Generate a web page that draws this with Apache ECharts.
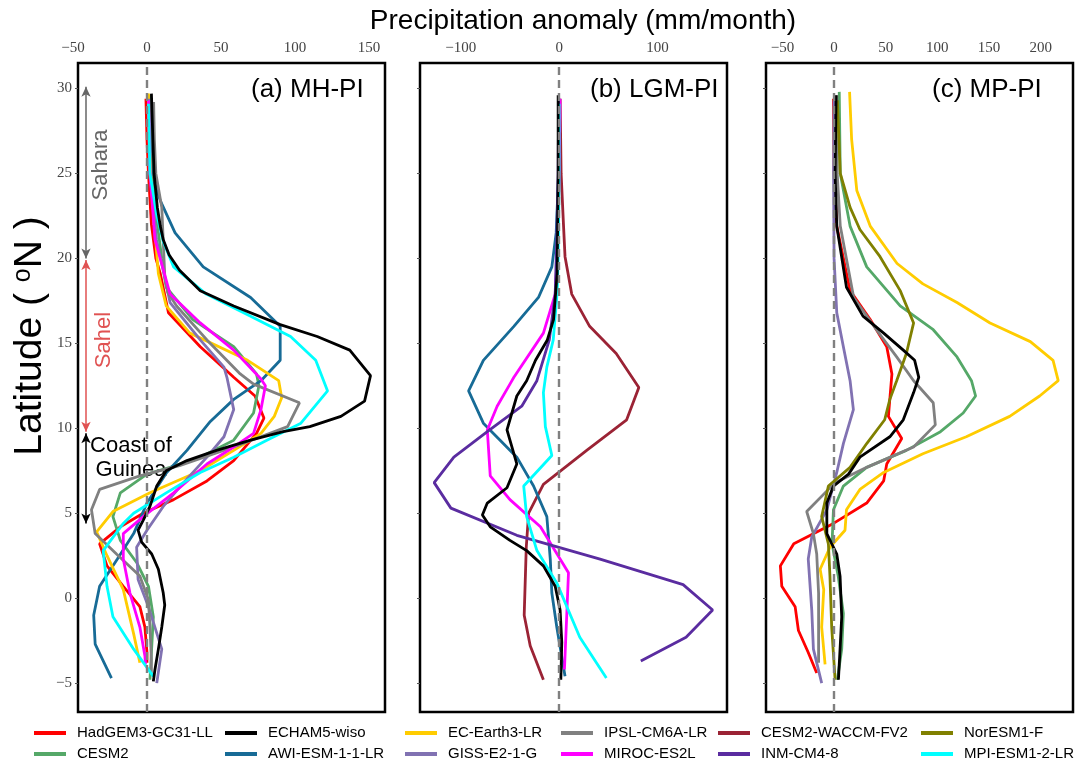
<!DOCTYPE html>
<html>
<head>
<meta charset="utf-8">
<script src="https://cdn.jsdelivr.net/npm/echarts@6/dist/echarts.min.js"></script>
<style>
  html, body { margin: 0; padding: 0; background: #fff; }
  #chart { width: 1088px; height: 762px; }
</style>
</head>
<body>
<div id="chart"></div>
<script>
// Zonal-mean precipitation anomaly profiles over West Africa, [latitude, mm/month]

// ---- (a) MH-PI ----
const mh_HadGEM3 = [[29.4,-0.7],[27,0],[25,1],[22,3],[20,6],[19.1,9],[16.8,14.5],[14.8,36],[13,58.6],[11.9,73],[10.6,79],[9.7,74],[8.1,58.6],[6.9,40.5],[5.8,18],[5,-2.5],[4.2,-18],[3.2,-32],[1.9,-27],[0.7,-16],[-0.5,-4.8],[-1.7,-1.4],[-3.2,0],[-3.8,0]];
const mh_CESM2 = [[29.6,2],[27,3],[25,4],[22,7],[20,10],[18.3,13],[16.4,31],[14.8,58.6],[13.2,74],[12.5,75.6],[10.9,72],[9.3,58.6],[8.3,36],[7.7,15.6],[7.3,0],[6.2,-18],[4.8,-23],[3.4,-18],[2.1,-7],[0.7,1],[-1.1,4.3],[-3.2,3],[-4.8,2]];
const mh_ECHAM5 = [[29.7,3],[27,4],[25,4.8],[23,7],[21.9,9],[21.1,11],[20.2,15],[19.3,22],[18.1,36],[17.2,58.6],[16.1,90],[15.4,115],[14.6,137],[13.1,151],[11.6,147],[10.7,131],[10.1,110],[9.8,92],[9.3,70],[8.7,47],[8.1,27],[7.5,13],[6.6,6.6],[5.4,2],[4.6,-2.5],[4,-6],[3.3,-3.6],[2.6,3.2],[1.7,7.7],[0.3,11],[-0.4,12],[-1.7,10],[-3,7.7],[-4.2,5.4],[-4.9,4.3]];
const mh_AWI = [[29.5,1],[27,2],[25,3],[23.4,9],[21.5,19],[19.5,38],[17.7,70],[16,90],[14,90],[12.8,77],[11.7,58.6],[10.4,42.8],[8.7,27],[7.4,13.3],[5.6,0],[3.8,-9],[2.3,-20],[0.7,-32],[-1,-36],[-2.7,-35],[-4.7,-24]];
const mh_ECEarth = [[29.7,1],[27,1.5],[25,2.5],[22,5],[19.1,7.7],[17.2,13],[15.6,29],[14,68],[12.8,89],[11.8,91],[10.7,86],[9.7,77],[8.7,58.6],[7.5,36],[6.2,2],[5.1,-23],[3.9,-34],[2.5,-27],[0.5,-16],[-2.1,-9],[-3.8,-4.8]];
const mh_GISS = [[29.4,1.5],[27,2],[25,2],[21.1,6.5],[17.4,15.6],[15.2,36],[13.6,52],[13,54],[11.1,58.6],[9.5,52],[8.3,40.5],[6.8,24.7],[5.4,11],[4,0],[3,-7],[1.1,-6],[-0.5,1],[-3,10],[-5,6.6]];
const mh_IPSL = [[29.2,4.5],[27,5],[25,6],[23,10],[21,11],[19,12],[18,14],[17.2,20],[15.2,40.5],[13.2,63],[12.6,72],[11.5,103],[10.1,95],[8.9,58.6],[7.8,22],[7.2,-4.8],[6.4,-32],[5.2,-37.5],[3.8,-35],[2.6,-20.6],[1.3,-4.8],[-0.1,1],[-1.7,2],[-3.6,3],[-4.5,3]];
const mh_MIROC = [[29.3,1],[27,1.5],[25,2],[21.1,5.4],[17.9,15.6],[16.2,36],[14.6,58.6],[12.9,77],[12.5,80],[11.1,77],[9.7,72],[8.9,58.6],[7.9,40.5],[6.2,18],[4.8,-2.5],[3.8,-16],[2.3,-16],[0.3,-11.5],[-1.7,-4.8],[-3.4,-1.4],[-3.9,-1]];
const mh_MPI = [[29.1,1],[27,1.5],[25,2],[22.6,6.5],[21,11],[19.5,18],[17.9,40],[16.6,70],[15.4,97],[14,114],[12.2,122],[10.3,104],[9.3,81],[8.3,58.6],[7.4,36],[6.2,13],[5,-9],[4.4,-16],[2.8,-29.6],[0.7,-27],[-1.1,-23],[-3,-9],[-4.6,4.3]];

// ---- (b) LGM-PI ----
const lgm_ECHAM5 = [[29.6,-1],[25,-1],[19.1,-2],[16.4,-5.7],[15.2,-12],[14,-24],[12.8,-33],[11.9,-43],[9.9,-53],[7.9,-43],[6.5,-53],[5.6,-73],[4.9,-78],[4.2,-70],[3.4,-50],[2.8,-33],[1.9,-16],[0.7,-4],[-0.7,1],[-2.6,2.7],[-4.8,1.7]];
const lgm_AWI = [[29.4,0],[25,-0.5],[21.5,-3],[19.5,-7.4],[17.7,-21],[16,-46],[14,-77],[12.2,-92],[10.3,-77],[9.3,-60],[8.3,-43],[6.6,-26],[4.8,-12.5],[2.3,-9],[0.3,-7.4],[-1.7,-2.4],[-4.6,6]];
const lgm_MIROC = [[29.4,1],[25,0],[20,-2],[17.9,-4],[15.6,-16],[13,-46],[12.6,-50],[11.3,-63],[9.9,-73],[7.2,-70],[5.8,-50],[4.2,-19],[1.5,9.5],[-0.9,7.8],[-4.2,5.4]];
const lgm_WACCM = [[29.4,1],[25,2],[22,4.4],[20.1,6],[17.9,12.8],[16,31],[14.4,58],[12.4,81],[10.5,68.6],[8.7,28],[6.7,-16],[5,-31],[3,-33.4],[-1,-35.5],[-2.8,-29.4],[-4.8,-16]];
const lgm_INM = [[29.5,-0.5],[25,-1],[21.1,-2.4],[17.9,-4],[15.2,-10],[12.8,-22.6],[11.3,-38],[9.8,-73],[8.3,-107],[6.8,-127],[5.3,-110],[3.7,-43],[2.3,41.6],[0.8,126],[-0.7,156],[-2.3,129],[-3.7,83]];
const lgm_MPI = [[29.1,0],[25,0],[20,-1],[18,-2],[15.2,-6],[13.6,-12.5],[12.1,-16],[10.1,-14],[8.4,-7.4],[6.6,-36],[4.8,-33],[2.8,-22.6],[0.9,-2.4],[-2.3,21],[-4.7,48]];

// ---- (c) MP-PI ----
const mp_HadGEM3 = [[29.4,-0.6],[25,0],[21.9,2.6],[18.1,15.5],[16.4,35],[14.8,51],[13.2,56],[10.7,52.6],[9.4,65.5],[7.9,51],[6.9,48],[5.6,31.6],[4.4,-0.6],[3.2,-39],[1.9,-52],[0.7,-50.6],[-0.5,-37.7],[-1.9,-34.5],[-3.2,-25],[-4.4,-16.8]];
const mp_CESM2 = [[29.8,5],[25,6],[21.9,15.5],[19.5,31.6],[17.2,64],[15.8,96],[14.2,119],[12.8,133],[11.9,137],[10.9,125],[9.8,103],[8.7,70],[7.7,31.6],[6.6,9],[5.2,-0.6],[3.2,-2],[1.3,4],[-0.9,9],[-3,7.4],[-4.8,3.2]];
const mp_ECHAM5 = [[29.6,2],[25,1],[21.9,2.6],[18.3,12],[16.6,28],[15.6,48],[14.6,67],[14,78],[13,82],[12.1,77],[10.5,67],[9.5,54],[8.3,25],[7.3,14],[6.6,-0.6],[5.6,-7],[3.8,-7],[2.6,2.6],[1.3,5.8],[-1.1,7.4],[-3,5.8],[-4.8,4.2]];
const mp_ECEarth = [[29.8,15],[27,17],[24,22],[21.9,35],[19.7,61],[18.5,86],[17.4,119],[16.2,151],[15.1,190],[14,212],[12.8,217],[11.9,199],[10.7,170],[9.5,128],[8.5,86],[7.4,48],[6.4,25],[5.2,12],[4,10.6],[3,-4],[1.7,-13.5],[0.5,-10],[-1.7,-12],[-3.9,-8.7]];
const mp_GISS = [[29.3,0],[25,-0.5],[20,0],[16.8,2.6],[14.8,9],[12.8,15.5],[11.1,18.7],[9.1,9],[7.4,2.6],[5.2,-7],[3.6,-21.6],[2.3,-25],[-0.7,-21.6],[-3,-20],[-5,-12]];
const mp_IPSL = [[29.6,2.6],[25,3],[21.9,6],[17.7,19],[15.8,41],[14.2,60.6],[12.8,77],[11.5,96],[10.2,98],[8.9,77],[7.7,31.6],[6.8,1],[5.1,-26.5],[3.8,-20],[2.6,-16.8],[0.3,-15],[-3.8,-15]];
const mp_NorESM = [[29.3,3.2],[25,6],[23,15.5],[21.7,25],[20.1,44.5],[18.1,64],[16.2,77],[14.4,70],[12.8,60.6],[11.7,54],[10.5,49],[9.1,31.6],[7.7,15.5],[6.6,-5.5],[4.8,-12],[3.2,-5.5],[1.3,-4],[-1.7,-2.3],[-4.8,1]];

const LAT_TICKS = [-5, 0, 5, 10, 15, 20, 25, 30];
const PANEL_TITLES = ['(a) MH-PI', '(b) LGM-PI', '(c) MP-PI'];
const AXIS_TITLE = 'Precipitation anomaly (mm/month)';

const LEGEND_COLUMNS = [
  ['HadGEM3-GC31-LL', 'CESM2'],
  ['ECHAM5-wiso', 'AWI-ESM-1-1-LR'],
  ['EC-Earth3-LR', 'GISS-E2-1-G'],
  ['IPSL-CM6A-LR', 'MIROC-ES2L'],
  ['CESM2-WACCM-FV2', 'INM-CM4-8'],
  ['NorESM1-F', 'MPI-ESM1-2-LR']
];

const MODEL_COLORS = {
  'HadGEM3-GC31-LL': '#ff0000',
  'CESM2': '#55a868',
  'ECHAM5-wiso': '#000000',
  'AWI-ESM-1-1-LR': '#176b96',
  'EC-Earth3-LR': '#ffcc00',
  'GISS-E2-1-G': '#8172b2',
  'IPSL-CM6A-LR': '#808080',
  'MIROC-ES2L': '#ff00ff',
  'CESM2-WACCM-FV2': '#9b2335',
  'INM-CM4-8': '#5a2ca0',
  'NorESM1-F': '#808000',
  'MPI-ESM1-2-LR': '#00ffff'
};

const PANEL_SERIES = [
  [['HadGEM3-GC31-LL', mh_HadGEM3], ['CESM2', mh_CESM2], ['AWI-ESM-1-1-LR', mh_AWI],
   ['EC-Earth3-LR', mh_ECEarth], ['GISS-E2-1-G', mh_GISS], ['IPSL-CM6A-LR', mh_IPSL],
   ['MIROC-ES2L', mh_MIROC], ['MPI-ESM1-2-LR', mh_MPI], ['ECHAM5-wiso', mh_ECHAM5]],
  [['CESM2-WACCM-FV2', lgm_WACCM], ['AWI-ESM-1-1-LR', lgm_AWI], ['MIROC-ES2L', lgm_MIROC],
   ['INM-CM4-8', lgm_INM], ['MPI-ESM1-2-LR', lgm_MPI], ['ECHAM5-wiso', lgm_ECHAM5]],
  [['HadGEM3-GC31-LL', mp_HadGEM3], ['CESM2', mp_CESM2], ['EC-Earth3-LR', mp_ECEarth],
   ['GISS-E2-1-G', mp_GISS], ['IPSL-CM6A-LR', mp_IPSL], ['NorESM1-F', mp_NorESM],
   ['ECHAM5-wiso', mp_ECHAM5]]
];

// ---- layout ----
const FRAME_TOP = 63, FRAME_W = 307, FRAME_H = 649;
const LAT_MIN = -6.7, LAT_MAX = 31.5;
const PANELS = [
  { left: 78,  xMin: -46.6,  xMax: 160.8, labelMin: -50,  interval: 50,  titleLeft: 251 },
  { left: 420, xMin: -141.4, xMax: 170.6, labelMin: -100, interval: 100, titleLeft: 590 },
  { left: 766, xMin: -65.9,  xMax: 231.3, labelMin: -50,  interval: 50,  titleLeft: 932 }
];

const SERIF = 'Liberation Serif';
const SANS = 'Liberation Sans';
const minus = v => String(v).replace('-', '\u2212');

const grids = [], xAxes = [], yAxes = [], series = [], titles = [];

// frame grids (0..2) carry the data; label grids (3..5) share the same scale
// but extend left so the first top tick label can sit outside the frame
PANELS.forEach((p, i) => {
  grids.push({ left: p.left, top: FRAME_TOP, width: FRAME_W, height: FRAME_H,
    show: true, borderColor: '#000', borderWidth: 2.5, backgroundColor: 'transparent' });
  xAxes.push({ gridIndex: i, type: 'value', min: p.xMin, max: p.xMax, show: false });
  yAxes.push({
    gridIndex: i, type: 'value', min: LAT_MIN, max: LAT_MAX, position: 'left',
    axisLine: { show: false, onZero: false }, splitLine: { show: false },
    axisTick: { show: true, length: 3, customValues: LAT_TICKS, lineStyle: { color: '#555', width: 1 } },
    axisLabel: { show: i === 0, customValues: LAT_TICKS, margin: 6, fontFamily: SERIF,
      fontSize: 15, color: '#444', formatter: v => minus(v) }
  });
  titles.push({ text: PANEL_TITLES[i], left: p.titleLeft, top: 77, padding: 0,
    textStyle: { fontFamily: SANS, fontSize: 26, fontWeight: 'normal', color: '#000' } });
});
PANELS.forEach((p, i) => {
  const ppu = FRAME_W / (p.xMax - p.xMin);
  const shift = (p.xMin - p.labelMin) * ppu;
  grids.push({ left: p.left - shift, top: FRAME_TOP, width: FRAME_W + shift, height: FRAME_H, show: false });
  xAxes.push({
    gridIndex: 3 + i, type: 'value', position: 'top', min: p.labelMin, max: p.xMax, interval: p.interval,
    axisLine: { show: false, onZero: false }, axisTick: { show: false }, splitLine: { show: false },
    axisLabel: { margin: 7, fontFamily: SERIF, fontSize: 15, color: '#444',
      formatter: v => (Math.abs(v % p.interval) < 1e-9 ? minus(v) : '') }
  });
  yAxes.push({ gridIndex: 3 + i, type: 'value', min: LAT_MIN, max: LAT_MAX, show: false });
});

// model profiles
PANEL_SERIES.forEach((list, i) => {
  list.forEach(([name, pts], k) => {
    const s = {
      name, type: 'line', xAxisIndex: i, yAxisIndex: i,
      data: pts.map(([lat, v]) => [v, lat]),
      showSymbol: false, symbol: 'none', silent: true, animation: false,
      lineStyle: { width: 2.8, color: MODEL_COLORS[name] },
      itemStyle: { color: MODEL_COLORS[name] }
    };
    if (k === 0) {
      s.markLine = {
        silent: true, symbol: 'none', animation: false,
        label: { show: false },
        lineStyle: { type: [8, 5], color: '#808080', width: 2.4 },
        data: [{ xAxis: 0 }]
      };
    }
    series.push(s);
  });
});

// regional brackets along the left edge of panel (a)
const BRACKET_X = -41.2;
const REGIONS = [
  { from: 30.1, to: 20.0, color: '#666666' },
  { from: 19.9, to: 9.8, color: '#e05252' },
  { from: 9.7, to: 4.4, color: '#000000' }
];
series.push({
  name: 'regions', type: 'line', xAxisIndex: 0, yAxisIndex: 0, data: [], silent: true, animation: false,
  markLine: {
    silent: true, animation: false, symbol: ['arrow', 'arrow'], symbolSize: [7, 10],
    label: { show: false },
    data: REGIONS.map(r => [
      { coord: [BRACKET_X, r.from], lineStyle: { color: r.color, width: 1.5, type: 'solid' }, itemStyle: { color: r.color } },
      { coord: [BRACKET_X, r.to] }
    ])
  }
});

const legends = LEGEND_COLUMNS.map((names, c) => ({
  orient: 'vertical', left: [34, 225, 405, 561, 718, 921][c], top: 725,
  padding: 0, itemGap: 5, itemWidth: 32, itemHeight: 4, icon: 'rect',
  selectedMode: false, data: names,
  textStyle: { fontFamily: SANS, fontSize: 15, color: '#000', lineHeight: 16, padding: [0, 0, 0, 6] }
}));

const graphic = [
  { type: 'text', x: 583, y: 21, silent: true,
    style: { text: AXIS_TITLE, fontFamily: SANS, fontSize: 28, fill: '#000', align: 'center', verticalAlign: 'middle' } },
  { type: 'text', x: 30, y: 336, rotation: Math.PI / 2, silent: true,
    style: { text: 'Latitude ( {s|o}N )', fontFamily: SANS, fontSize: 39, fill: '#000',
      align: 'center', verticalAlign: 'middle',
      rich: { s: { fontFamily: SANS, fontSize: 25, verticalAlign: 'top', fill: '#000' } } } },
  { type: 'text', x: 101, y: 165, rotation: Math.PI / 2, silent: true,
    style: { text: 'Sahara', fontFamily: SANS, fontSize: 22, fill: '#666666', align: 'center', verticalAlign: 'middle' } },
  { type: 'text', x: 104, y: 340, rotation: Math.PI / 2, silent: true,
    style: { text: 'Sahel', fontFamily: SANS, fontSize: 22, fill: '#e05252', align: 'center', verticalAlign: 'middle' } },
  { type: 'text', x: 131, y: 458, silent: true,
    style: { text: 'Coast of\nGuinea', fontFamily: SANS, fontSize: 22, lineHeight: 24, fill: '#000', align: 'center', verticalAlign: 'middle' } }
];

const chart = echarts.init(document.getElementById('chart'), null, { renderer: 'canvas' });
chart.setOption({
  backgroundColor: '#fff',
  animation: false,
  title: titles,
  legend: legends,
  grid: grids,
  xAxis: xAxes,
  yAxis: yAxes,
  series,
  graphic
});
</script>
</body>
</html>
